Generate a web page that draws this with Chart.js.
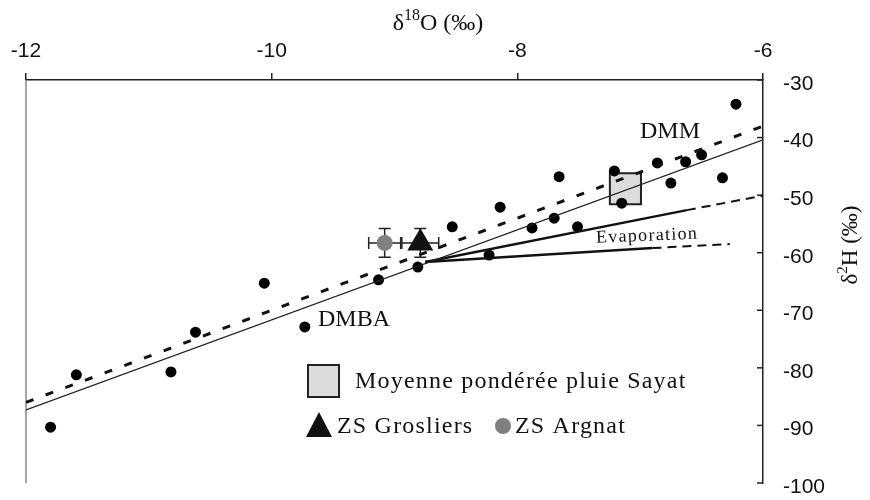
<!DOCTYPE html>
<html>
<head>
<meta charset="utf-8">
<script src="https://cdn.jsdelivr.net/npm/chart.js@4.4.1/dist/chart.umd.min.js"></script>
<style>
  body { margin: 0; background: #fff; }
  #wrap { width: 870px; height: 500px; }
</style>
</head>
<body>
<div id="wrap"><canvas id="myChart" width="870" height="500"></canvas></div>
<script>
// samples (δ18O, δ2H)
const sampleX = [-11.80, -11.59, -10.82, -10.62, -10.06, -9.73, -9.13, -8.81, -8.53, -8.23, -8.14, -7.88,
    -7.70, -7.51, -7.66, -7.21, -7.15, -6.86, -6.75, -6.63, -6.50, -6.33, -6.22];
const sampleY = [-90.3, -81.2, -80.7, -73.8, -65.3, -72.9, -64.7, -62.5, -55.5, -60.4, -52.1, -55.7,
    -54.0, -55.5, -46.8, -45.8, -51.4, -44.4, -47.9, -44.2, -43.0, -47.0, -34.2];

// water lines
const lineX = [-12, -6];
const lmwlY = [-87.3, -40.4];
const gmwlY = [-86.0, -38.0];

// evaporation lines (solid part then dashed part)
const evapUpperX = [-8.75, -6.62, -6.00];
const evapUpperY = [-61.6, -52.6, -50.1];
const evapLowerX = [-8.75, -6.90, -6.27];
const evapLowerY = [-61.6, -59.2, -58.5];

// weighted rain mean, springs
const rainX = [-7.12];
const rainY = [-48.9];
const groslX = [-8.79];
const groslY = [-58.3];
const groslErrX = [0.15];
const groslErrY = [2.5];
const argnatX = [-9.08];
const argnatY = [-58.3];
const argnatErrX = [0.13];
const argnatErrY = [2.5];

const xTicks = [-12, -10, -8, -6];
const yTicks = [-30, -40, -50, -60, -70, -80, -90, -100];

const pts = (xs, ys) => xs.map((x, i) => ({ x: x, y: ys[i] }));
const SERIF = '"Liberation Serif", "Times New Roman", serif';
const SANS = '"Liberation Sans", Arial, sans-serif';

const dashSecond = { borderDash: c => c.p0DataIndex === 1 ? [9, 6] : undefined,
                     borderWidth: c => c.p0DataIndex === 1 ? 2 : 2.5 };

document.addEventListener('DOMContentLoaded', function () {
    const ctx = document.getElementById('myChart').getContext('2d');

    new Chart(ctx, {
        type: 'scatter',
        data: {
            datasets: [
                { label: 'GMWL', data: pts(lineX, gmwlY), showLine: true, pointRadius: 0,
                  borderColor: '#111', borderWidth: 3, borderDash: [8, 13] },
                { label: 'LMWL', data: pts(lineX, lmwlY), showLine: true, pointRadius: 0,
                  borderColor: '#222', borderWidth: 1.3 },
                { label: 'evap1', data: pts(evapUpperX, evapUpperY), showLine: true, pointRadius: 0,
                  borderColor: '#111', segment: dashSecond },
                { label: 'evap2', data: pts(evapLowerX, evapLowerY), showLine: true, pointRadius: 0,
                  borderColor: '#111', segment: dashSecond },
                { label: 'samples', data: pts(sampleX, sampleY), pointRadius: 5.5,
                  backgroundColor: '#000', borderColor: '#000', borderWidth: 0 },
                { label: 'Moyenne pondérée pluie Sayat', data: pts(rainX, rainY), pointStyle: 'rect',
                  pointRadius: 22, backgroundColor: '#dcdcdc', borderColor: '#222', borderWidth: 2 },
                { label: 'ZS Argnat', data: pts(argnatX, argnatY), pointRadius: 8,
                  backgroundColor: '#808080', borderColor: '#808080', borderWidth: 0 },
                { label: 'ZS Grosliers', data: pts(groslX, groslY), pointStyle: 'triangle',
                  pointRadius: 15, backgroundColor: '#111', borderColor: '#111', borderWidth: 0 }
            ]
        },
        options: {
            responsive: false,
            animation: false,
            layout: { autoPadding: false, padding: { left: 26, right: 0, top: 0, bottom: 17 } },
            scales: {
                x: {
                    type: 'linear',
                    position: 'top',
                    min: -12,
                    max: -6,
                    afterFit: s => { s.height = 80; },
                    afterBuildTicks: s => { s.ticks = xTicks.map(v => ({ value: v })); },
                    grid: { display: true, drawOnChartArea: false, drawTicks: true, tickLength: 7,
                            color: '#222', lineWidth: 1.5 },
                    border: { display: true, color: '#222', width: 1.5 },
                    ticks: { color: '#111', padding: 9, font: { family: SANS, size: 21 } }
                },
                y: {
                    type: 'linear',
                    position: 'right',
                    min: -100,
                    max: -30,
                    afterFit: s => { s.width = 107; s.paddingTop = 0; s.paddingBottom = 0; },
                    afterBuildTicks: s => { s.ticks = yTicks.map(v => ({ value: v })); },
                    grid: { display: false, drawTicks: true, tickLength: 20 },
                    border: { display: true, color: '#222', width: 1.5 },
                    ticks: { color: '#111', padding: 0, labelOffset: 4,
                             font: { family: SANS, size: 21, lineHeight: 1 } }
                }
            },
            plugins: {
                legend: { display: false },
                tooltip: { enabled: false }
            }
        },
        plugins: [{
            beforeDatasetsDraw: function (chart) {
                const c = chart.ctx;
                const xs = chart.scales.x, ys = chart.scales.y;
                const a = chart.chartArea;
                c.save();
                // left frame line
                c.strokeStyle = '#888';
                c.lineWidth = 1.5;
                c.beginPath();
                c.moveTo(a.left, a.top);
                c.lineTo(a.left, a.bottom);
                c.stroke();
                // inward ticks on right axis
                c.strokeStyle = '#222';
                yTicks.forEach(function (v) {
                    const py = ys.getPixelForValue(v);
                    c.beginPath();
                    c.moveTo(a.right - 6, py);
                    c.lineTo(a.right, py);
                    c.stroke();
                });
                // error bars
                c.lineWidth = 1.5;
                c.strokeStyle = '#222';
                const bars = [[argnatX, argnatY, argnatErrX, argnatErrY], [groslX, groslY, groslErrX, groslErrY]];
                bars.forEach(function (b) {
                    b[0].forEach(function (x, i) {
                        const px = xs.getPixelForValue(x), py = ys.getPixelForValue(b[1][i]);
                        const x0 = xs.getPixelForValue(x - b[2][i]), x1 = xs.getPixelForValue(x + b[2][i]);
                        const y0 = ys.getPixelForValue(b[1][i] + b[3][i]), y1 = ys.getPixelForValue(b[1][i] - b[3][i]);
                        c.beginPath();
                        c.moveTo(x0, py); c.lineTo(x1, py);
                        c.moveTo(x0, py - 6); c.lineTo(x0, py + 6);
                        c.moveTo(x1, py - 6); c.lineTo(x1, py + 6);
                        c.moveTo(px, y0); c.lineTo(px, y1);
                        c.moveTo(px - 6, y0); c.lineTo(px + 6, y0);
                        c.moveTo(px - 6, y1); c.lineTo(px + 6, y1);
                        c.stroke();
                    });
                });
                c.restore();
            },
            afterDraw: function (chart) {
                const c = chart.ctx;
                c.save();
                c.fillStyle = '#111';
                c.textBaseline = 'middle';

                // top axis title: δ18O (‰)
                c.font = '24px ' + SERIF;
                const wd = c.measureText('δ').width;
                c.font = '16px ' + SERIF;
                const ws = c.measureText('18').width;
                c.font = '24px ' + SERIF;
                const wr = c.measureText('O (‰)').width;
                let tx = 438 - (wd + ws + wr) / 2;
                c.textAlign = 'left';
                c.fillText('δ', tx, 24);
                c.font = '16px ' + SERIF;
                c.fillText('18', tx + wd, 16);
                c.font = '24px ' + SERIF;
                c.fillText('O (‰)', tx + wd + ws, 24);

                // right axis title: δ2H (‰)
                c.translate(851, 245);
                c.rotate(-Math.PI / 2);
                c.font = '23px ' + SERIF;
                const wd2 = c.measureText('δ').width;
                c.font = '15px ' + SERIF;
                const ws2 = c.measureText('2').width;
                c.font = '23px ' + SERIF;
                const wr2 = c.measureText('H (‰)').width;
                tx = -(wd2 + ws2 + wr2) / 2;
                c.fillText('δ', tx, 0);
                c.font = '15px ' + SERIF;
                c.fillText('2', tx + wd2, -8);
                c.font = '23px ' + SERIF;
                c.fillText('H (‰)', tx + wd2 + ws2, 0);
                c.setTransform(1, 0, 0, 1, 0, 0);

                // line labels
                c.font = '24px ' + SERIF;
                c.fillText('DMM', 640, 132);
                c.fillText('DMBA', 318, 320);
                c.save();
                c.translate(596, 238);
                c.rotate(-0.04);
                c.font = '18px ' + SERIF;
                c.letterSpacing = '1.3px';
                c.fillText('Evaporation', 0, 0);
                c.restore();

                // legend
                c.fillStyle = '#dcdcdc';
                c.fillRect(308, 365, 31, 32);
                c.strokeStyle = '#222';
                c.lineWidth = 2;
                c.strokeRect(308, 365, 31, 32);
                c.fillStyle = '#111';
                c.font = '24px ' + SERIF;
                c.letterSpacing = '1.2px';
                c.fillText('Moyenne pondérée pluie Sayat', 355, 382);
                c.beginPath();
                c.moveTo(319, 412); c.lineTo(332, 437); c.lineTo(306, 437);
                c.closePath();
                c.fill();
                c.fillText('ZS Grosliers', 337, 427);
                c.fillStyle = '#808080';
                c.beginPath();
                c.arc(503, 426, 8, 0, Math.PI * 2);
                c.fill();
                c.fillStyle = '#111';
                c.fillText('ZS Argnat', 515, 427);
                c.restore();
            }
        }]
    });
});
</script>
</body>
</html>
